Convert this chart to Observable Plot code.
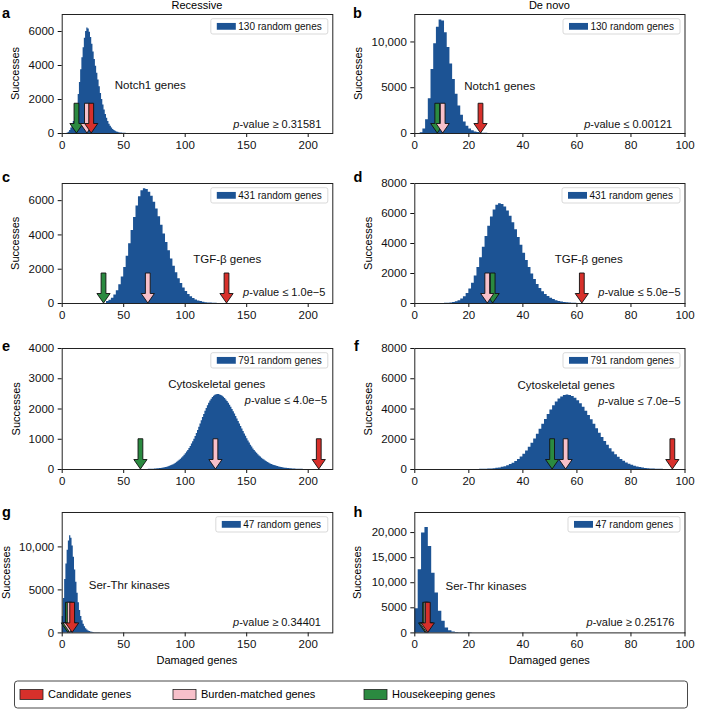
<!DOCTYPE html>
<html><head><meta charset="utf-8">
<script src="https://cdn.jsdelivr.net/npm/d3@7"></script>
<script src="https://cdn.jsdelivr.net/npm/@observablehq/plot@0.6"></script>
<style>
body{margin:0;background:#fff;}
#fig{position:relative;width:702px;height:711px;font-family:"Liberation Sans",Arial,Helvetica,sans-serif;color:#000;overflow:hidden;}
</style></head><body><div id="fig"></div><script>
// ---------------- data ----------------
const panelIds = ["a","b","c","d","e","f","g","h"];
const columnTitles = ["Recessive","De novo"];
const geneSets = ["Notch1 genes","Notch1 genes","TGF-β genes","TGF-β genes","Cytoskeletal genes","Cytoskeletal genes","Ser-Thr kinases","Ser-Thr kinases"];
const randomGeneCounts = [130,130,431,431,791,791,47,47];
const pValueRelation = ["≥","≤","≤","≤","≤","≤","≥","≥"];
const pValues = ["0.31581","0.00121","1.0e−5","5.0e−5","4.0e−5","7.0e−5","0.34401","0.25176"];
const binStart = [4,2,36,8,70,24,0,0];
const binWidth = [1,1,2,1,1,1,1,1.25];
const countsA = [30,80,180,330,500,700,950,1250,1700,2300,3000,3750,4450,5050,5600,6000,6200,6150,5950,5650,5250,4800,4350,3950,3550,3150,2750,2350,2000,1680,1380,1120,900,710,550,420,320,240,180,130,95,70,50,36,26,19,14,10,7,5,4,3,2,2,1,1,1,1,1,1,1,1,1];
const countsB = [80,500,1500,3800,7000,9800,11600,12400,12300,11000,9400,7600,5900,4300,3000,2000,1250,780,480,290,170,100,60,35,20,12,7,4,2,1];
const countsC = [110,190,310,490,750,1090,1540,2100,2750,3490,4260,5010,5690,6230,6580,6700,6650,6490,6250,5910,5510,5060,4570,4060,3560,3070,2600,2180,1790,1450,1160,910,700,530,400,290,210,150,110,75,50,34,22,14,9,6,4,2,1,1,1,1];
const countsD = [1,3,6,11,21,38,66,112,184,292,449,669,964,1349,1827,2397,3045,3745,4460,5150,5760,6240,6545,6650,6594,6430,6164,5812,5386,4910,4400,3876,3358,2862,2397,1975,1599,1274,998,780,600,460,350,260,190,135,95,65,44,30,20,13,8,5,3,2,1,1];
const countsE = [5,6,8,10,12,15,18,21,25,30,35,41,48,56,65,77,90,105,120,140,160,185,210,240,270,305,340,380,420,470,520,575,630,695,760,840,920,1000,1087,1188,1291,1397,1504,1611,1717,1821,1922,2017,2107,2189,2262,2326,2381,2424,2455,2474,2480,2476,2465,2446,2419,2386,2346,2299,2247,2189,2125,2057,1986,1911,1833,1752,1671,1588,1504,1422,1338,1256,1175,1096,1020,945,875,805,740,678,625,580,535,490,450,410,375,340,310,280,255,230,205,185,165,150,135,120,108,96,85,75,66,58,51,45,39,34,30,26,22,19,16,14,12,10,8,7,6,5,4,3,3,2,2,1,1,1,1];
const countsF = [9,13,19,27,39,55,76,104,141,188,248,323,416,529,666,828,1013,1227,1468,1736,2023,2332,2654,2984,3314,3636,3939,4217,4457,4654,4800,4890,4920,4895,4823,4704,4542,4342,4110,3851,3573,3282,2984,2686,2395,2114,1847,1598,1368,1160,974,809,666,543,437,349,276,216,167,128,97,73,55,40,30,22,16,11,8,6,4,3,2,1,1,1];
const countsG = [1900,4000,6200,8000,9600,10700,11300,11000,10100,8800,7300,5900,4600,3500,2600,1900,1400,1000,700,480,330,220,150,100,65,42,27,17,11,7,4,2,1];
const countsH = [4800,12600,19900,21000,17200,11900,7950,4300,2300,1000,450,200,90,40,20,10,5,2,1];
const countsList = [countsA,countsB,countsC,countsD,countsE,countsF,countsG,countsH];
const candidateX = [24,24.5,134,62,209,95.5,8.5,5];
const burdenX = [20.5,10.5,70,27,125,56,6.5,4.5];
const housekeepingX = [12,8.5,34,29,64,51,5,4];
const xMaxes = [220,100,220,100,220,100,220,100];
const yMaxes = [7000,13000,7000,8000,4000,8000,14000,24000];
const xTicksLeft = [0,50,100,150,200];
const xTicksRight = [0,20,40,60,80,100];
const yTicksList = [[0,2000,4000,6000],[0,5000,10000],[0,2000,4000,6000],[0,2000,4000,6000,8000],[0,1000,2000,3000,4000],[0,2000,4000,6000,8000],[0,5000,10000],[0,5000,10000,15000,20000]];
const legendLabels = ["Candidate genes","Burden-matched genes","Housekeeping genes"];

// ---------------- styles / layout ----------------
const BLUE = "#1c5394", RED = "#d7302b", PINK = "#f7c0ca", GREEN = "#2b8a40";
const FONT = '"Liberation Sans", Arial, Helvetica, sans-serif';
const colLeft = [0, 351];
const colMargin = [{left: 61.7, right: 18.7}, {left: 63.3, right: 17.5}];
const rowTop = [14, 183.3, 348.3, 512.3];
const rowH = [119, 120, 121, 120.4];
const MT = 12, MB = 28;
const geneLabelPos = [[52.6,71.3],[49.4,72],[131,75.4],[140,75.4],[106,36],[102.7,36.7],[26.6,73],[30.7,73.7]];
const pLabelPos = [[-11,109.7],[-12.3,109.7],[-7,109.4],[-4,109.4],[-5.3,52],[-4,52.7],[-11.3,110.4],[-10,110.4]];
const letterPos = [[2,18],[353,18],[2,182],[353.5,182],[2,350.5],[354,350.5],[2,517],[353.5,517]];
const yLabelX = [15,357.7,15,368,15.8,368,6.5,357];
const legendBoxW = [117,117,117,118,117,117,112,112];

const fmtY = v => v >= 10000 ? d3.format(",")(v) : String(v);

function arrowMark(list, yMax) {
  return (index, scales) => {
    const g = d3.create("svg:g");
    const y0 = scales.y(0), y1 = scales.y(yMax * 0.25);
    const sw = 2.4, hw = 6.6, hl = 9.5;
    for (const a of list) {
      const x = scales.x(a.x);
      const yh = y0 - hl;
      const d = `M${x-sw},${y1}L${x+sw},${y1}L${x+sw},${yh}L${x+hw},${yh}L${x},${y0}L${x-hw},${yh}L${x-sw},${yh}Z`;
      g.append("path").attr("d", d).attr("fill", a.color).attr("stroke", "#111").attr("stroke-width", 0.9).attr("stroke-linejoin", "miter");
    }
    return g.node();
  };
}
function panelLegend(label, w) {
  return (index, scales, values, dims) => {
    const size = 10, h = 15.3;
    const right = dims.width - dims.marginRight - 4.5, top = dims.marginTop + 4.7;
    const g = d3.create("svg:g");
    g.append("rect").attr("x", right - w).attr("y", top).attr("width", w).attr("height", h).attr("rx", 2)
      .attr("fill", "white").attr("stroke", "#cfcfcf").attr("stroke-width", 0.8);
    g.append("rect").attr("x", right - w + 6).attr("y", top + h/2 - 3.4).attr("width", 19).attr("height", 6.8).attr("fill", BLUE);
    g.append("text").attr("x", right - w + 27.5).attr("y", top + h/2).attr("dy", "0.35em").attr("text-anchor", "start")
      .attr("font-size", size).attr("fill", "#111").text(label);
    return g.node();
  };
}
function pLabel(rel, val, dx, dy) {
  return (index, scales, values, dims) => {
    const t = d3.create("svg:text").attr("x", dims.width - dims.marginRight + dx).attr("y", dims.marginTop + dy)
      .attr("dy", "0.35em").attr("text-anchor", "end").attr("font-size", 11).attr("fill", "#111");
    t.append("tspan").attr("font-style", "italic").text("p");
    t.append("tspan").text(`-value ${rel} ${val}`);
    return t.node();
  };
}

const fig = d3.select("#fig");
// overlay texts
const ov = fig.append("svg").attr("width", 702).attr("height", 711)
  .style("position", "absolute").style("left", "0px").style("top", "0px").style("font-family", FONT);
ov.append("text").attr("x", 196.9).attr("y", 8.5).attr("text-anchor", "middle").attr("font-size", 11).text(columnTitles[0]);
ov.append("text").attr("x", 549.4).attr("y", 8.5).attr("text-anchor", "middle").attr("font-size", 11).text(columnTitles[1]);
panelIds.forEach((id, i) => {
  ov.append("text").attr("x", letterPos[i][0]).attr("y", letterPos[i][1]).attr("font-size", 14.5).attr("font-weight", "bold").text(id);
  const row = Math.floor(i / 2);
  const cy = rowTop[row] + rowH[row] / 2;
  ov.append("text").attr("transform", `translate(${yLabelX[i]},${cy}) rotate(-90)`).attr("dy", "0.35em")
    .attr("text-anchor", "middle").attr("font-size", 11).text("Successes");
});
ov.append("text").attr("x", 196.9).attr("y", 664).attr("text-anchor", "middle").attr("font-size", 11).text("Damaged genes");
ov.append("text").attr("x", 549.4).attr("y", 664).attr("text-anchor", "middle").attr("font-size", 11).text("Damaged genes");
// bottom legend
ov.append("rect").attr("x", 14.5).attr("y", 681).attr("width", 673).attr("height", 27).attr("rx", 3)
  .attr("fill", "white").attr("stroke", "#333").attr("stroke-width", 0.9);
const legColors = [RED, PINK, GREEN];
const legX = [20, 173, 364];
legendLabels.forEach((lab, k) => {
  ov.append("rect").attr("x", legX[k]).attr("y", 689.5).attr("width", 23).attr("height", 10)
    .attr("fill", legColors[k]).attr("stroke", "#222").attr("stroke-width", 0.8);
  ov.append("text").attr("x", legX[k] + 28).attr("y", 694.5).attr("dy", "0.35em").attr("font-size", 11).text(lab);
});

// panels
panelIds.forEach((id, i) => {
  const row = Math.floor(i / 2), col = i % 2;
  const counts = countsList[i];
  const pts = counts.map((c, k) => ({x: binStart[i] + k * binWidth[i], count: c}));
  pts.push({x: binStart[i] + counts.length * binWidth[i], count: 0});
  const arrows = [
    {x: housekeepingX[i], color: GREEN},
    {x: burdenX[i], color: PINK},
    {x: candidateX[i], color: RED}
  ];
  const m = colMargin[col];
  const chart = Plot.plot({
    width: 351, height: MT + rowH[row] + MB,
    marginLeft: m.left, marginRight: m.right, marginTop: MT, marginBottom: MB,
    style: {fontFamily: FONT, fontSize: "11.5px", background: "transparent", overflow: "visible", color: "#111"},
    x: {domain: [0, xMaxes[i]], ticks: col === 0 ? xTicksLeft : xTicksRight, tickSize: 4, tickPadding: 3, label: null},
    y: {domain: [0, yMaxes[i]], ticks: yTicksList[i], tickSize: 4, tickPadding: 4, tickFormat: fmtY, label: null},
    marks: [
      Plot.area(pts, {x1: "x", y1: () => 0, y2: "count", curve: "step-after", fill: BLUE}),
      Plot.text([geneSets[i]], {frameAnchor: "top-left", dx: geneLabelPos[i][0], dy: geneLabelPos[i][1], text: d => d,
        textAnchor: "start", lineAnchor: "middle", fontSize: 11.5, fill: "#111"}),
      pLabel(pValueRelation[i], pValues[i], pLabelPos[i][0], pLabelPos[i][1]),
      panelLegend(`${randomGeneCounts[i]} random genes`, legendBoxW[i]),
      arrowMark(arrows, yMaxes[i]),
      Plot.frame({stroke: "#222", strokeWidth: 1})
    ]
  });
  chart.style.position = "absolute";
  chart.style.left = colLeft[col] + "px";
  chart.style.top = (rowTop[row] - MT) + "px";
  chart.style.maxWidth = "none";
  fig.node().appendChild(chart);
});
</script></body></html>
